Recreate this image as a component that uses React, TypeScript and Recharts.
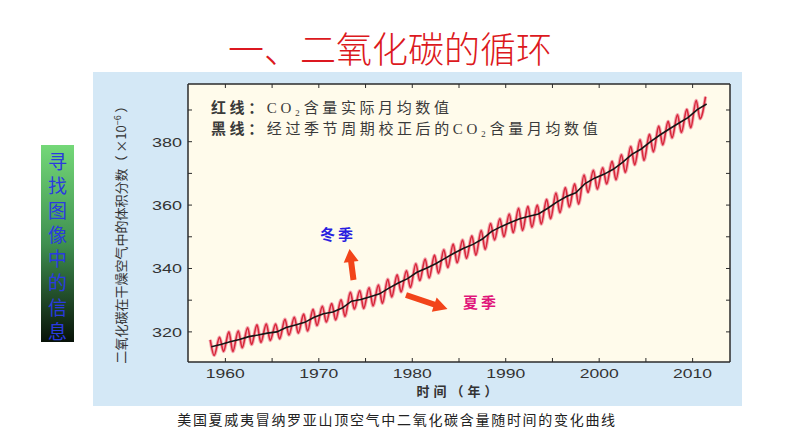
import { LineChart, Line, XAxis, YAxis, CartesianGrid } from 'recharts'

// Mauna Loa CO2 (x10^-6)
const years = [
  1958, 1959, 1960, 1961, 1962, 1963, 1964, 1965, 1966, 1967,
  1968, 1969, 1970, 1971, 1972, 1973, 1974, 1975, 1976, 1977,
  1978, 1979, 1980, 1981, 1982, 1983, 1984, 1985, 1986, 1987,
  1988, 1989, 1990, 1991, 1992, 1993, 1994, 1995, 1996, 1997,
  1998, 1999, 2000, 2001, 2002, 2003, 2004, 2005, 2006, 2007,
  2008, 2009, 2010, 2011,
]

// black line: seasonally corrected, one value per year
const trend = [
  315.3, 316.0, 316.9, 317.6, 318.5, 319.0, 319.6, 320.0, 321.4, 322.2,
  323.0, 324.6, 325.7, 326.3, 327.5, 329.7, 330.2, 331.1, 332.0, 333.8,
  335.4, 336.8, 338.8, 340.1, 341.5, 343.2, 344.9, 346.4, 347.6, 349.3,
  351.7, 353.2, 354.5, 355.7, 356.5, 357.2, 359.0, 361.0, 362.7, 363.9,
  366.8, 368.5, 369.7, 371.3, 373.5, 376.0, 377.7, 380.0, 382.1, 384.0,
  385.8, 387.6, 390.1, 391.9,
]

// red line: spring maximum and autumn minimum of each year
const peaks = [
  317.5, 318.3, 320.0, 320.3, 321.3, 322.2, 322.5, 322.5, 324.0, 324.6,
  325.6, 327.1, 328.1, 328.9, 330.1, 332.5, 333.0, 333.9, 334.8, 336.6,
  338.0, 339.3, 341.5, 343.0, 344.2, 345.9, 347.7, 349.0, 350.3, 352.0,
  354.2, 355.7, 357.2, 359.0, 359.6, 360.0, 361.8, 363.8, 365.5, 366.7,
  369.5, 371.0, 371.8, 373.8, 375.9, 378.5, 380.6, 382.3, 384.9, 386.4,
  388.5, 390.2, 393.0, 394.2,
]
const troughs = [
  312.6, 313.8, 313.8, 315.0, 316.0, 316.7, 317.3, 317.8, 319.0, 319.6,
  320.3, 322.0, 323.1, 323.8, 324.9, 327.2, 327.4, 328.2, 329.0, 331.0,
  332.6, 334.0, 336.2, 337.0, 338.5, 340.3, 341.8, 343.2, 344.2, 346.0,
  349.0, 350.0, 351.3, 352.0, 353.0, 354.0, 355.7, 357.6, 359.4, 360.3,
  364.0, 365.0, 366.7, 368.0, 370.3, 372.7, 374.1, 376.8, 379.0, 381.2,
  382.9, 384.4, 387.2,
]

const xTicks = [1960, 1965, 1970, 1975, 1980, 1985, 1990, 1995, 2000, 2005, 2010]
const xLabels = [1960, 1970, 1980, 1990, 2000, 2010]
const yTicks = [320, 330, 340, 350, 360, 370, 380, 390]
const yLabels = [320, 340, 360, 380]

const redData: { x: number; y: number }[] = []
years.forEach((yr, i) => {
  redData.push({ x: yr + 0.38, y: peaks[i] })
  if (i < troughs.length) redData.push({ x: yr + 0.8, y: troughs[i] })
})
const blackData = years.map((yr, i) => ({ x: yr + 0.5, y: trend[i] }))

const AXIS = '#2b2b2b'
const LABEL = '#333'
const CJK = "'Noto Sans CJK SC', sans-serif"

const XTick = ({ x, y, payload, top }: any) => {
  const v = payload.value
  return (
    <g>
      <line x1={x} x2={x} y1={y} y2={top ? y + 4 : y - 4} stroke={AXIS} strokeWidth={1} />
      {!top && xLabels.includes(v) && (
        <text x={x} y={y + 16} textAnchor="middle" fontSize={12} fill={LABEL}
          fontFamily="'Liberation Sans', Arial, sans-serif" textLength={39} lengthAdjust="spacingAndGlyphs">
          {v}
        </text>
      )}
    </g>
  )
}

const YTick = ({ x, y, payload, right }: any) => {
  const v = payload.value
  return (
    <g>
      <line x1={x} x2={right ? x - 4 : x + 4} y1={y} y2={y} stroke={AXIS} strokeWidth={1} />
      {!right && yLabels.includes(v) && (
        <text x={x - 6} y={y + 5} textAnchor="end" fontSize={13} fill={LABEL}
          fontFamily="'Liberation Sans', Arial, sans-serif" textLength={30} lengthAdjust="spacingAndGlyphs">
          {v}
        </text>
      )}
    </g>
  )
}

function arrowPts(x1: number, y1: number, x2: number, y2: number, w: number, hw: number, hl: number) {
  const dx = x2 - x1, dy = y2 - y1
  const L = Math.hypot(dx, dy)
  const ux = dx / L, uy = dy / L
  const px = -uy, py = ux
  const bx = x2 - ux * hl, by = y2 - uy * hl
  const p = [
    [x1 + px * w / 2, y1 + py * w / 2],
    [bx + px * w / 2, by + py * w / 2],
    [bx + px * hw / 2, by + py * hw / 2],
    [x2, y2],
    [bx - px * hw / 2, by - py * hw / 2],
    [bx - px * w / 2, by - py * w / 2],
    [x1 - px * w / 2, y1 - py * w / 2],
  ]
  return p.map(q => q.join(',')).join(' ')
}

const boxText = '寻找图像中的信息'

export default function App() {
  return (
    <div style={{ position: 'fixed', left: 0, top: 0, width: 794, height: 447, background: '#fff', overflow: 'hidden' }}>
      <div style={{
        position: 'absolute', left: 190, top: 28, width: 400, textAlign: 'center',
        fontFamily: CJK, fontSize: 36, fontWeight: 300, lineHeight: '38px', color: '#dc1820',
      }}>
        一、二氧化碳的循环
      </div>

      <div style={{ position: 'absolute', left: 93, top: 72, width: 649, height: 334, background: '#d4e8f6' }} />

      <div style={{
        position: 'absolute', left: 41, top: 145, width: 33, height: 197,
        background: 'linear-gradient(#74d878, #3f9050 50%, #081208)',
        boxSizing: 'border-box', paddingTop: 4,
        fontFamily: CJK, fontSize: 19, lineHeight: '24.3px', color: '#2a3ae0', textAlign: 'center',
        whiteSpace: 'pre-line',
      }}>
        {boxText.split('').join('\n')}
      </div>

      <div style={{ position: 'absolute', left: 0, top: 0 }}>
        <LineChart width={794} height={447} margin={{ top: 83, right: 63, bottom: 55, left: 148 }}>
          <CartesianGrid horizontal={false} vertical={false} fill="#fffbeb" />
          <XAxis dataKey="x" type="number" domain={[1956, 2014]} allowDataOverflow ticks={xTicks} interval={0}
            height={30} tickSize={0} tickMargin={0} axisLine={{ stroke: AXIS, strokeWidth: 1.5 }}
            tickLine={false} tick={<XTick />} />
          <XAxis xAxisId="top" orientation="top" dataKey="x" type="number" domain={[1956, 2014]} allowDataOverflow
            ticks={xTicks} interval={0} height={1} tickSize={0} tickMargin={0}
            axisLine={{ stroke: AXIS, strokeWidth: 1.5 }} tickLine={false} tick={<XTick top />} />
          <YAxis type="number" domain={[310.5, 398.2]} allowDataOverflow ticks={yTicks} interval={0}
            width={40} tickSize={0} tickMargin={0} axisLine={{ stroke: AXIS, strokeWidth: 1.5 }}
            tickLine={false} tick={<YTick />} />
          <YAxis yAxisId="right" orientation="right" type="number" domain={[310.5, 398.2]} allowDataOverflow
            ticks={yTicks} interval={0} width={1} tickSize={0} tickMargin={0}
            axisLine={{ stroke: AXIS, strokeWidth: 1.5 }} tickLine={false} tick={<YTick right />} />
          <Line data={redData} dataKey="y" type="monotone" stroke="#f3aab2" strokeWidth={3.4}
            dot={false} isAnimationActive={false} />
          <Line data={redData} dataKey="y" type="monotone" stroke="#d8283a" strokeWidth={1.6}
            dot={false} isAnimationActive={false} />
          <Line data={blackData} dataKey="y" type="linear" stroke="#161616" strokeWidth={1.6}
            dot={false} isAnimationActive={false} />
        </LineChart>
      </div>

      <svg width={794} height={447} style={{ position: 'absolute', left: 0, top: 0, pointerEvents: 'none' }}>
        <text transform="translate(126 231.5) rotate(-90)" textAnchor="middle" fontSize={13}
          fill={LABEL} fontFamily={CJK}>
          二氧化碳在干燥空气中的体积分数（ ×10<tspan dy={-5} fontSize={9}>−6</tspan><tspan dy={5}> ）</tspan>
        </text>
        <text x={459} y={396} textAnchor="middle" fontSize={13} fontWeight="bold" fill={LABEL}
          fontFamily={CJK} style={{ letterSpacing: 4 }}>
          时间（年）
        </text>

        <g fontSize={15} fill="#3a3a3a" fontFamily={`'Liberation Serif', ${CJK}`} style={{ letterSpacing: 3.6 }}>
          <text x={211} y={113}>
            <tspan fontWeight="bold" fontFamily={CJK}>红线：</tspan>CO₂含量实际月均数值
          </text>
          <text x={211} y={134}>
            <tspan fontWeight="bold" fontFamily={CJK}>黑线：</tspan>经过季节周期校正后的CO₂含量月均数值
          </text>
        </g>

        <text x={320} y={240} fontSize={15} fontWeight="bold" fill="#2a1ee0" fontFamily={CJK}
          style={{ letterSpacing: 3 }}>冬季</text>
        <text x={463} y={308} fontSize={15} fontWeight="bold" fill="#e0157a" fontFamily={CJK}
          style={{ letterSpacing: 3 }}>夏季</text>

        <polygon points={arrowPts(353.5, 280, 349.5, 249, 6, 15, 13)} fill="#f2441a" />
        <polygon points={arrowPts(406, 295, 447.5, 309, 6, 15, 14)} fill="#f2441a" />
      </svg>

      <div style={{
        position: 'absolute', left: 97, top: 409, width: 600, textAlign: 'center',
        fontFamily: CJK, fontSize: 14, lineHeight: '20px', letterSpacing: 1.7, color: '#222',
      }}>
        美国夏威夷冒纳罗亚山顶空气中二氧化碳含量随时间的变化曲线
      </div>
    </div>
  )
}
